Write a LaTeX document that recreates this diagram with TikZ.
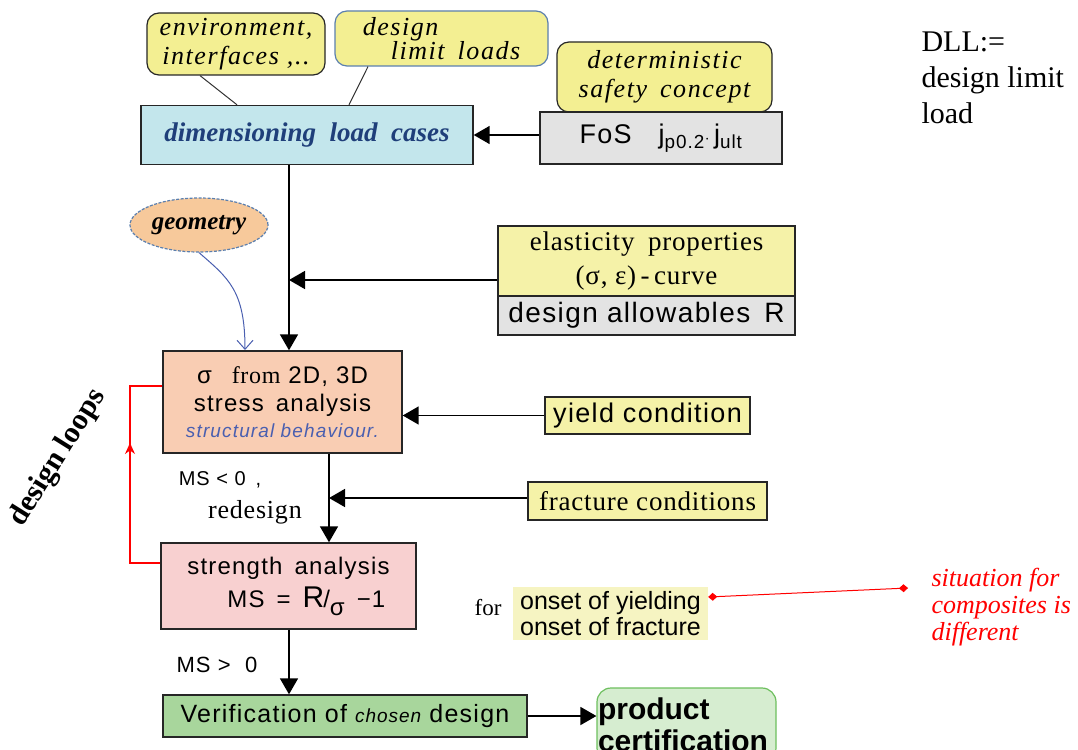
\documentclass[tikz,border=0pt]{standalone}
\usepackage{fontspec}
\setmainfont{Liberation Serif}
\setsansfont{Liberation Sans}
\newfontfamily\callf[LetterSpace=6]{Liberation Serif}
\newfontfamily\sansw[LetterSpace=5]{Liberation Sans}
\newfontfamily\serw[LetterSpace=3]{Liberation Serif}
\usetikzlibrary{arrows.meta,shapes.geometric,calc}
\newcommand\fsz[2]{\fontsize{#1}{#2}\selectfont}
\definecolor{cyel}{HTML}{F3EF92}
\definecolor{byel}{HTML}{F5F2A8}
\definecolor{oyel}{HTML}{F6F4C2}
\definecolor{lblue}{HTML}{C3E6EC}
\definecolor{gr}{HTML}{E3E3E3}
\definecolor{salm}{HTML}{F9CDB3}
\definecolor{pnk}{HTML}{F8D0D0}
\definecolor{grn}{HTML}{A8D69C}
\definecolor{lgrn}{HTML}{D6EDD0}
\definecolor{orng}{HTML}{F7C99B}
\definecolor{dblue}{HTML}{1F3F7A}
\definecolor{mblue}{HTML}{4A5FB0}
\definecolor{cborder}{HTML}{5B7FAE}
\definecolor{gborder}{HTML}{6DBF5E}
\tikzset{
  box/.style={draw=black!85, line width=1.4pt, inner sep=0pt, align=center},
  callout/.style={draw=black!85, line width=1.2pt, rounded corners=12pt, fill=cyel, inner sep=0pt, align=center, font=\callf\itshape\fsz{26}{29}},
  arr/.style={line width=1.6pt, -{Triangle[length=16pt,width=18pt]}},
  tail/.style={line width=1pt, black!80},
  redl/.style={red, line width=1.2pt},
}
\begin{document}
\begin{tikzpicture}[x=1pt,y=-1pt]
\useasboundingbox (0,0) rectangle (1078,749);
% callouts
\node[callout, minimum width=178pt, minimum height=62pt] (env) at (236,44) {environment,\\interfaces ,..};
\node[callout, draw=cborder, minimum width=213pt, minimum height=55pt, align=left, font=\callf\itshape\fsz{26}{24}] (dll) at (441.5,38.5) {design\\\hspace*{28pt}limit\enspace loads};
\node[callout, minimum width=215pt, minimum height=70pt] (det) at (664.5,77) {deterministic\\safety\enspace concept};
% main boxes
\node[box, fill=lblue, minimum width=332pt, minimum height=59pt, text=dblue, font=\bfseries\itshape\fsz{27}{30}] (dim) at (307,135) {dimensioning\enspace load\enspace cases};
\node[box, fill=gr, minimum width=242pt, minimum height=52pt, font=\sansw\fsz{27}{30}] (fos) at (661,138) {FoS\quad j\textsubscript{p0.2}{\fsz{16}{16}$\cdot$}\,j\textsubscript{ult}};
\node[ellipse, draw=cborder, dash pattern=on 3pt off 1.5pt, line width=1.2pt, fill=orng, minimum width=138pt, minimum height=54pt, inner sep=0pt, font=\bfseries\itshape\fsz{25}{28}] (geo) at (199,225) {geometry};
\node[box, fill=byel, minimum width=297pt, minimum height=70pt, font=\serw\fsz{27}{34}] (ela) at (646.5,261) {elasticity\enspace properties\\(σ, ε)\,-\,curve};
\node[box, fill=gr, minimum width=297pt, minimum height=39pt, font=\sansw\fsz{28}{30}] (alw) at (646.5,315.5) {design allowables\enspace R};
\node[box, fill=salm, minimum width=239pt, minimum height=102pt, font=\sansw\fsz{24}{28}] (sig) at (282.5,402) {σ\enspace\ {\serw from}\ 2D, 3D\\stress\enspace analysis\\[-2pt]{\sffamily\itshape\fsz{19}{22}\addfontfeature{LetterSpace=6}\color{mblue}structural behaviour.}};
\node[box, fill=byel, minimum width=205pt, minimum height=37pt, font=\sansw\fsz{27}{30}] (yld) at (647.5,415.5) {yield condition};
\node[box, fill=byel, minimum width=239pt, minimum height=38pt, font=\serw\fsz{27}{30}] (frc) at (647.5,501) {fracture conditions};
\node[box, fill=pnk, minimum width=255pt, minimum height=86pt, font=\sansw\fsz{24}{33}, align=left] (str) at (288.5,586) {strength\enspace analysis\\\hspace*{40pt}MS\enspace =\enspace {\fsz{30}{30}R}\hspace{-1pt}/\raisebox{-8pt}{σ}\enspace −1};
\node[fill=oyel, minimum width=195pt, minimum height=53pt, inner sep=0pt, align=center, font=\sffamily\fsz{25}{26}] (ons) at (610.5,613.5) {onset of yielding\\onset of fracture};
\node[box, fill=grn, minimum width=364pt, minimum height=42pt, font=\sansw\fsz{25}{28}] (ver) at (345,716) {Verification of {\itshape\fsz{19}{20}chosen} design};
\node[draw=gborder, line width=1.2pt, rounded corners=14pt, fill=lgrn, minimum width=179pt, minimum height=74pt, inner sep=0pt, text width=177pt, align=left, font=\sffamily\bfseries\fsz{30}{32}] (prd) at (686.5,725) {product\\certification};
% labels
\node[font=\sansw\fsz{20}{22}] (ms1) at (220,480) {MS < 0\enspace,};
\node[font=\serw\fsz{26}{28}] (rd) at (255,512) {redesign};
\node[font=\sansw\fsz{22}{24}] (ms2) at (217,665) {MS > \ 0};
\node[font=\fsz{23}{24}] (for) at (488,608) {for};
\node[rotate=58, font=\bfseries\fsz{30}{34}] (dl) at (58,458) {design loops};
\node[anchor=north west, align=left, font=\fsz{30}{36}] (dlldef) at (918,28) {DLL:=\\design limit\\load};
\node[anchor=west, align=left, text=red, font=\itshape\fsz{26}{27}] (sit) at (928,607) {situation for\\composites is\\different};
% callout tails
\draw[tail] ($(env.south)+(-36,0)$) -- ($(dim.north)+(-70,0)$);
\draw[tail] ($(dll.south)+(-73.5,0)$) -- ($(dim.north)+(42,0)$);
% connectors
\coordinate (m1) at (289,0);
\coordinate (m2) at (329,0);
\coordinate (j1) at (289,280);
\coordinate (j2) at (329,498);
\draw[arr] (dim.east -| fos.west) -- (dim.east);
\draw[arr] (dim.south -| m1) -- (sig.north -| m1);
\draw[arr] (j1 -| ela.west) -- (j1);
\draw[arr] (yld.west) -- (yld.west -| sig.east);
\draw[arr] (sig.south -| m2) -- (str.north -| m2);
\draw[arr] (j2 -| frc.west) -- (j2);
\draw[arr] (str.south -| m1) -- (ver.north -| m1);
\draw[arr] (ver.east) -- (prd.west |- ver.east);
% geometry curve
\draw[mblue, line width=1pt, -{Straight Barb[length=9pt,width=16pt]}] (geo.south) .. controls (228,278) and (245,290) .. (245,350);
% red loop
\coordinate (r1) at (130,563);
\coordinate (r2) at (130,386);
\draw[redl] (r1 -| str.west) -- (r1) -- (r2) -- (r2 -| sig.west);
\draw[redl, -{Stealth[length=11pt,width=10pt]}] (r1) -- (130,443);
% red note connector
\coordinate (rn) at (908,588);
\draw[red, line width=1pt, {Diamond[length=9pt,width=8pt]}-{Diamond[length=9pt,width=8pt]}] (ons.east |- 0,597) -- (rn);
\end{tikzpicture}
\end{document}
